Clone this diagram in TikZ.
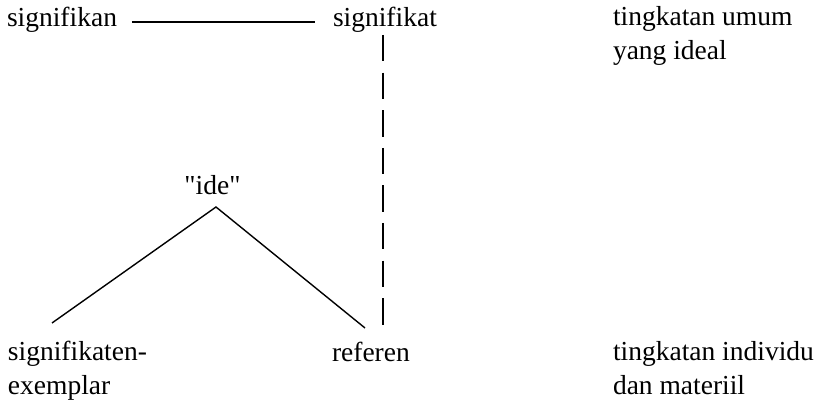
\documentclass[tikz,border=0pt]{standalone}
\usepackage{fontspec}
\setmainfont{Liberation Serif}[Ligatures=TeXOff]
\usetikzlibrary{calc}
\tikzset{
  lbl/.style={inner sep=0pt, outer sep=0pt, anchor=base west, align=left,
    font=\fontsize{27.5}{34}\selectfont},
  solidline/.style={line width=1.4pt, black},
  dashline/.style={line width=2pt, black, dash pattern=on 26.5pt off 11.1pt}
}
\begin{document}
\begin{tikzpicture}[x=1pt,y=-1pt]
\useasboundingbox (0,0) rectangle (825,403);
% multi-line nodes: base anchor = baseline of the last line
\node[lbl] (sn) at (7,27) {signifikan};
\node[lbl] (st) at (333,27) {signifikat};
\node[lbl] (tu) at (613,60) {tingkatan umum\\yang ideal};
\node[lbl, anchor=base] (ide) at (212.5,195) {"ide"};
\node[lbl] (sg) at (8,395) {signifikaten-\\exemplar};
\node[lbl] (rf) at (332,362) {referen};
\node[lbl] (ti) at (613,395) {tingkatan individu\\dan materiil};
\draw[solidline] ($(sn.base east)+(15,-5)$) -- ($(st.base west)+(-18,-5)$);
\draw[dashline] ($(st.base west)+(50,8)$) -- ($(st.base west)+(50,298)$);
\draw[solidline] ($(sg.base west)+(44,-72)$) -- ($(ide.base)+(3.5,12)$) -- ($(rf.base west)+(33,-34)$);
\end{tikzpicture}
\end{document}
